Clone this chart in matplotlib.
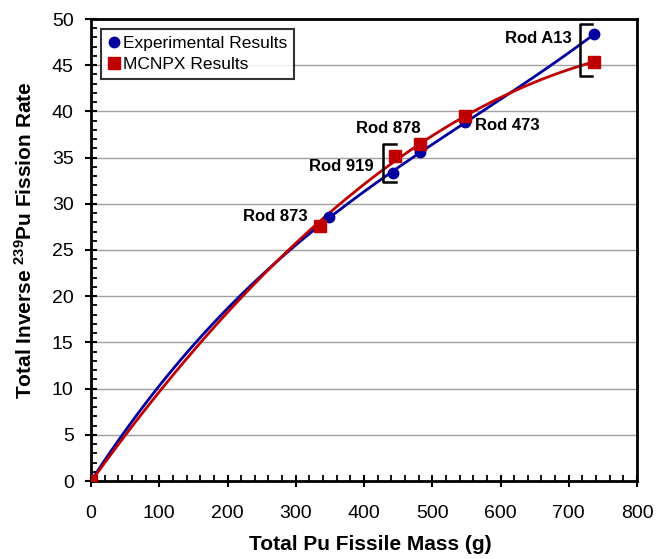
import numpy as np
import matplotlib
matplotlib.use("Agg")
import matplotlib.pyplot as plt
from matplotlib.ticker import MultipleLocator
from matplotlib.transforms import offset_copy

plt.rcParams['font.family'] = ['Liberation Sans', 'DejaVu Sans']
plt.rcParams['mathtext.fontset'] = 'custom'
plt.rcParams['mathtext.rm'] = 'Liberation Sans'
plt.rcParams['mathtext.bf'] = 'Liberation Sans:bold'

# Rod data: total fissile mass (g) vs. total inverse fission rate
rods = ["", "Rod 873", "Rod 919", "Rod 878", "Rod 473", "Rod A13"]
exp_mass = [0, 349, 443, 482.5, 548, 737.5]
exp_rate = [0, 28.6, 33.3, 35.6, 38.9, 48.35]
mcnp_mass = [0, 335.5, 445, 482.5, 548, 737.5]
mcnp_rate = [0, 27.6, 35.2, 36.5, 39.45, 45.3]

BLUE = "#0000A0"
RED = "#C00000"

fig = plt.figure(figsize=(6.56, 5.59), dpi=100)
ax = fig.add_axes([91/656, 1 - 481/559, (637-91)/656, (481-19)/559])


def trend(x, y, deg):
    """Least-squares polynomial trendline over the data range."""
    x = np.asarray(x, float)
    y = np.asarray(y, float)
    coef = np.polyfit(x, y, deg)
    xs = np.linspace(0, x.max(), 300)
    return xs, np.polyval(coef, xs)


bx, by = trend(exp_mass, exp_rate, 3)
rx, ry = trend(mcnp_mass, mcnp_rate, 2)
ax.plot(bx, by, color=BLUE, lw=2.0, zorder=3)
ax.plot(rx, ry, color=RED, lw=2.0, zorder=4)

ax.plot(exp_mass, exp_rate, 'o', color=BLUE, ms=7.5, zorder=5,
        label="Experimental Results")
ax.plot(mcnp_mass, mcnp_rate, 's', color=RED, ms=8, zorder=6,
        label="MCNPX Results")

ax.set_xlim(0, 800)
ax.set_ylim(0, 50)
ax.xaxis.set_major_locator(MultipleLocator(100))
ax.xaxis.set_minor_locator(MultipleLocator(20))
ax.yaxis.set_major_locator(MultipleLocator(5))
ax.yaxis.set_minor_locator(MultipleLocator(1))
ax.tick_params(which='major', direction='inout', length=8, width=1.5,
               labelsize=14)
ax.tick_params(axis='x', which='major', pad=13.5)
ax.tick_params(axis='y', which='major', pad=8.5)
ax.tick_params(which='minor', direction='in', length=4, width=1.3)
ax.grid(axis='y', which='major', color='#a0a0a0', lw=1.0, zorder=0)
for s in ax.spines.values():
    s.set_linewidth(2)
    s.set_color('black')

ax.set_xlabel("Total Pu Fissile Mass (g)", fontsize=15, fontweight='bold')
ax.set_ylabel(r"Total Inverse $\mathbf{^{239}}$Pu Fission Rate", fontsize=15,
              fontweight='bold')
ax.xaxis.set_label_coords(0.511, -0.117)
ax.yaxis.set_label_coords(-0.101, 0.522)

leg = ax.legend(loc='upper left', fontsize=12.5, frameon=True, fancybox=False,
                edgecolor='black', borderpad=0.4, handlelength=0.7,
                handletextpad=0.15, labelspacing=0.35, borderaxespad=0,
                bbox_to_anchor=(0.018, 0.978))
leg.get_frame().set_linewidth(1.5)

# Rod labels
lab = dict(fontsize=12, fontweight='bold', zorder=7)
ax.annotate(rods[5], (exp_mass[5], exp_rate[5]), xytext=(-16, -3),
            textcoords='offset points', ha='right', va='center', **lab)
ax.annotate(rods[4], (exp_mass[4], exp_rate[4]), xytext=(7, -3),
            textcoords='offset points', ha='left', va='center', **lab)
ax.annotate(rods[3], (mcnp_mass[3], mcnp_rate[3]), xytext=(-23, 11),
            textcoords='offset points', ha='center', va='center', **lab)
ax.annotate(rods[2], (exp_mass[2], exp_rate[2]), xytext=(-14, 5),
            textcoords='offset points', ha='right', va='center', **lab)
ax.annotate(rods[1], (mcnp_mass[1], mcnp_rate[1]), xytext=(-9, 7),
            textcoords='offset points', ha='right', va='center', **lab)


def bracket(i, dx, top_pad, bot_pad, hook):
    """Square bracket spanning both results for rod i (offsets in px)."""
    xm = exp_mass[i]
    yhi = max(exp_rate[i], mcnp_rate[i])
    ylo = min(exp_rate[i], mcnp_rate[i])
    ttop = offset_copy(ax.transData, fig=fig, x=dx, y=top_pad, units='dots')
    tbot = offset_copy(ax.transData, fig=fig, x=dx, y=-bot_pad, units='dots')
    htop = offset_copy(ax.transData, fig=fig, x=dx + hook, y=top_pad,
                       units='dots')
    hbot = offset_copy(ax.transData, fig=fig, x=dx + hook, y=-bot_pad,
                       units='dots')
    p = [htop.transform((xm, yhi)), ttop.transform((xm, yhi)),
         tbot.transform((xm, ylo)), hbot.transform((xm, ylo))]
    p = np.array(p)
    ax.plot(p[:, 0], p[:, 1], color='black', lw=1.8, transform=None,
            solid_joinstyle='round', zorder=7, clip_on=False)


bracket(5, -14, 10, 14, 12)
bracket(2, -10, 12, 9, 13)

fig.savefig("out.png", dpi=100)
